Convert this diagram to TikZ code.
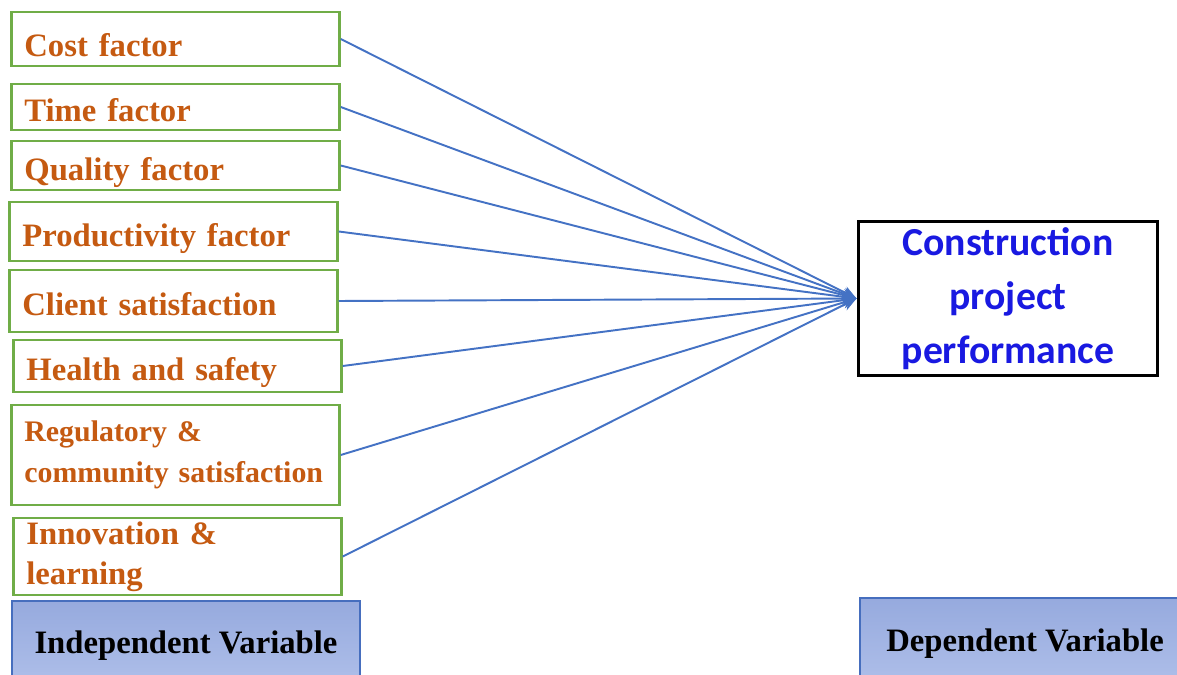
\documentclass[tikz,border=0pt]{standalone}
\usepackage{fontspec}
\setmainfont{Liberation Serif}
\newfontfamily\calibrifont{Carlito}
\usetikzlibrary{arrows.meta, positioning}
\usepackage{xcolor}
\definecolor{facorange}{RGB}{197,90,17}
\definecolor{facgreen}{RGB}{112,173,71}
\definecolor{linkblue}{RGB}{68,114,196}
\definecolor{perfblue}{RGB}{25,25,225}
\definecolor{vartop}{RGB}{150,170,222}
\definecolor{varbottom}{RGB}{176,192,234}
\definecolor{varedge}{RGB}{70,110,190}

\begin{document}
\begin{tikzpicture}[x=0.02cm, y=-0.02cm,
  factor/.style={draw=facgreen, line width=1.6pt, fill=white, text=facorange,
    font=\bfseries\fontsize{18.6}{22.7}\selectfont, align=left, anchor=west,
    inner xsep=0.26cm, inner ysep=0pt, text width=6.04cm},
  oneline/.style={text height=#1, text depth=0pt},
  perf/.style={draw=black, line width=1.7pt, fill=white, text=perfblue,
    font=\calibrifont\bfseries\fontsize{22.6}{30.6}\selectfont, align=center,
    minimum width=6cm, minimum height=3.1cm},
  var/.style={draw=varedge, line width=1.2pt, top color=vartop, bottom color=varbottom,
    font=\bfseries\fontsize{18.6}{22}\selectfont},
  link/.style={draw=linkblue, line width=1.1pt, -{Stealth[length=8pt, width=7pt]}}]

  \clip (0,0) rectangle (1177,675);

  % independent factors
  \node[factor, oneline=20pt, minimum height=1.08cm] (cost) at (10,39) {Cost factor};
  \node[factor, oneline=17pt, minimum height=0.92cm] (time) at (10,107) {Time factor};
  \node[factor, oneline=17pt, minimum height=0.98cm] (quality) at (10,165.5) {Quality factor};
  \node[factor, oneline=17pt, minimum height=1.18cm] (productivity) at (8,231.5) {Productivity factor};
  \node[factor, oneline=17pt, minimum height=1.24cm] (client) at (8,301) {Client satisfaction};
  \node[factor, oneline=17pt, minimum height=1.04cm] (health) at (12,366) {Health and safety};
  \node[factor, font=\bfseries\fontsize{17}{23.4}\selectfont, minimum height=2.0cm] (regulatory) at (10,455)
    {Regulatory \&\\\mbox{community satisfaction}};
  \node[factor, minimum height=1.54cm] (innovation) at (12,556.5) {Innovation \&\\learning};

  % dependent
  \node[perf] (performance) at (1008,298.5) {Construction\\project\\performance};

  % links
  \foreach \f in {cost, time, quality, productivity, client, health, regulatory, innovation}
    \draw[link] (\f.east) -- (performance.west);

  % captions
  \node[var, minimum width=6.96cm, minimum height=1.78cm] (indep) at (186,645.5) {Independent Variable};
  \node[var, minimum width=6.6cm, minimum height=1.84cm] (dep) at (1025,644) {Dependent Variable};
\end{tikzpicture}
\end{document}
